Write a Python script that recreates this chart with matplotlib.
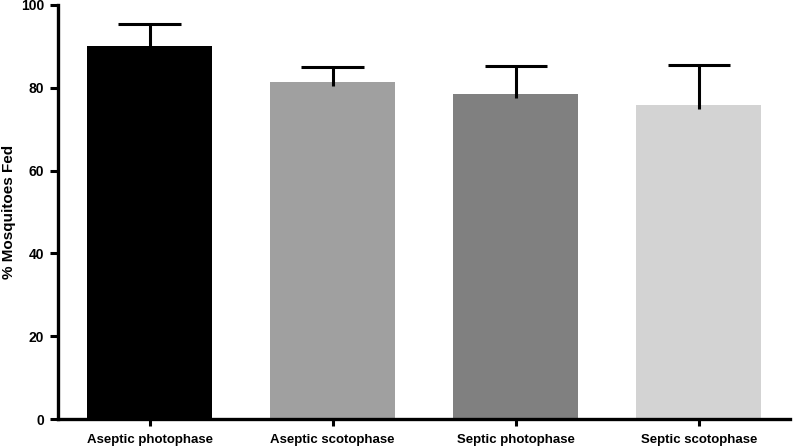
import matplotlib
matplotlib.use("Agg")
import matplotlib.pyplot as plt

# ===== DATA =====
groups = ["Aseptic photophase", "Aseptic scotophase", "Septic photophase", "Septic scotophase"]
fed_pct = [90.0, 81.3, 78.5, 75.8]
err_up = [5.3, 3.6, 6.8, 9.8]
bar_colors = ["#000000", "#a0a0a0", "#808080", "#d3d3d3"]

plt.rcParams["font.family"] = ["Liberation Sans", "DejaVu Sans"]
plt.rcParams["font.weight"] = "bold"

fig = plt.figure(figsize=(7.95, 4.46), dpi=100)
ax = fig.add_axes([0.073, 0.0605, 0.921, 0.9285])

x = list(range(len(groups)))
ax.bar(x, fed_pct, width=0.683, color=bar_colors, zorder=2)

# upper-only error bars with a single cap
tops = [v + e for v, e in zip(fed_pct, err_up)]
ax.vlines(x, [v - 1 for v in fed_pct], tops, color="black", linewidth=2.2, zorder=3)
ax.hlines(tops, [i - 0.17 for i in x], [i + 0.17 for i in x],
          color="black", linewidth=2.2, zorder=3)

ax.set_xlim(-0.5, 3.5)
ax.set_ylim(0, 100)
ax.set_yticks([0, 20, 40, 60, 80, 100])
ax.set_xticks(x)
ax.set_xticklabels(groups, fontsize=9.5, fontweight="bold")
for lbl in ax.get_yticklabels():
    lbl.set_fontweight("bold")
    lbl.set_fontsize(10)
ax.set_ylabel("% Mosquitoes Fed", fontsize=11, fontweight="bold")
ax.yaxis.set_label_coords(-0.058, 0.5)

for side in ["top", "right"]:
    ax.spines[side].set_visible(False)
for side in ["left", "bottom"]:
    ax.spines[side].set_linewidth(2.4)
    ax.spines[side].set_zorder(4)
ax.tick_params(axis="y", width=2.2, length=6, direction="out", pad=4)
ax.tick_params(axis="x", width=2.2, length=5, direction="out", pad=6)

fig.savefig("out.png", dpi=100)
